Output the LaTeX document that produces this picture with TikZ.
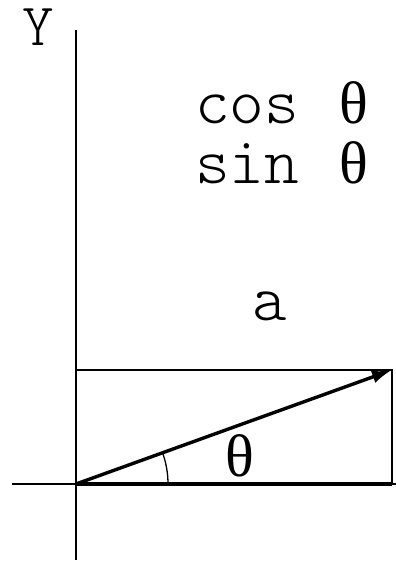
\documentclass[tikz,border=0pt]{standalone}
\usepackage{fontspec}
\usetikzlibrary{arrows.meta,calc}
\newfontfamily\tms{Liberation Serif}
\IfFontExistsTF{Latin Modern Mono Light}
  {\newfontfamily\cour{Latin Modern Mono Light}}
  {\newcommand\cour{\ttfamily}}
\begin{document}
\begin{tikzpicture}[x=1pt,y=-1pt,
  thinline/.style={line width=1.6pt},
  thickline/.style={line width=3.4pt},
  lbl/.style={inner sep=0pt, font=\cour\fontsize{66}{66}\selectfont},
  glbl/.style={inner sep=0pt, font=\tms\fontsize{60}{60}\selectfont}]
\useasboundingbox (0,0) rectangle (396,570);
\coordinate (O) at (76,484);
\coordinate (ytop) at (76,30);
\coordinate (ybot) at (76,560);
\coordinate (xl) at (12,484);
\coordinate (xr) at (396,484);
\coordinate (P) at (392,370);
\coordinate (Q) at (392,484);
\coordinate (R) at (76,370);
\draw[thinline] (ybot) -- (ytop);
\draw[thinline] (xl) -- (xr);
\draw[thinline] (R) -- (P) -- (Q);
\draw[thickline] (O) -- (Q);
\draw[thickline, -{Latex[length=20pt,width=13pt]}] (O) -- (P);
\draw[line width=1.3pt] ($(O)+(92,0)$) arc[start angle=0, end angle=-19.8, radius=92];
\node[lbl, anchor=base, font=\cour\fontsize{60}{60}\selectfont] (ylab) at (38,45) {Y};
\node[lbl, anchor=base west] (cos) at (195,123) {cos\hspace{40pt}{\tms\fontsize{60}{60}\selectfont θ}};
\node[lbl, anchor=base west] (sin) at (195,183) {sin\hspace{40pt}{\tms\fontsize{60}{60}\selectfont θ}};
\node[lbl, anchor=base] (alab) at (270,320) {a};
\node[glbl, anchor=base] (th) at (239.5,476) {θ};
\end{tikzpicture}
\end{document}
